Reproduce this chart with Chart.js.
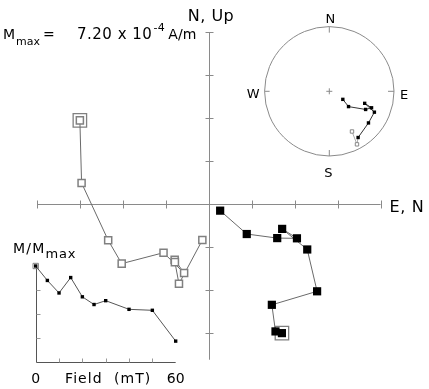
<!DOCTYPE html>
<html>
<head>
<meta charset="utf-8">
<script src="https://cdn.jsdelivr.net/npm/chart.js@4/dist/chart.umd.min.js"></script>
<style>
  html, body { margin: 0; padding: 0; background: #fff; }
  canvas { display: block; }
</style>
</head>
<body>
<canvas id="chart" width="429" height="389"></canvas>
<script>
// AF demagnetisation steps (mT) and normalised intensity
const fields = [0, 5, 10, 15, 20, 25, 30, 40, 50, 60];
const intensity = [1.0, 0.85, 0.72, 0.88, 0.68, 0.60, 0.64, 0.55, 0.54, 0.22];

// vector components per step, in Zijderveld tick units
const east = [1.70, 1.55, 1.465, 2.52, 2.29, 1.705, 2.05, 1.59, 0.88, 0.26];
const north = [-3.01, -2.97, -2.35, -2.035, -1.06, -0.58, -0.80, -0.795, -0.70, -0.155];
const up = [1.95, 0.49, -0.845, -1.39, -1.135, -1.61, -1.30, -1.355, -1.86, -0.84];

const zijHTicks = [-4, -3, -2, -1, 1, 2, 3, 4];
const zijVTicks = [4, 3, 2, 1, -1, -2, -3];
const zijVBottom = -3.63;
const demagXTicks = [10, 20, 30, 40, 50];
const demagYTicks = [0.25, 0.5, 0.75];
const mmaxText = '7.20 x 10';
const mmaxExp = '-4';

const W = 429, H = 389;

// equal-area projection of each step (inclination positive down)
const stereo = east.map((e, i) => {
    const h = Math.hypot(e, north[i]);
    const inc = Math.atan2(-up[i], h);
    const dec = Math.atan2(e, north[i]);
    const r = Math.SQRT2 * Math.sin((Math.PI / 2 - Math.abs(inc)) / 2);
    return { x: r * Math.sin(dec), y: r * Math.cos(dec), down: inc >= 0 };
});

function axisX(originPx, unitPx) {
    return { type: 'linear', axis: 'x', display: false, min: -originPx / unitPx, max: (W - originPx) / unitPx };
}
function axisY(originPx, unitPx) {
    return { type: 'linear', axis: 'y', display: false, min: -(H - originPx) / unitPx, max: originPx / unitPx };
}

function txt(ctx, str, x, y, size, align, spacing) {
    ctx.font = size + 'px "DejaVu Sans"';
    ctx.letterSpacing = (spacing || 0) + 'px';
    ctx.textAlign = align || 'left';
    ctx.textBaseline = 'alphabetic';
    ctx.fillText(str, x, y);
    return ctx.measureText(str).width;
}

function line(ctx, x1, y1, x2, y2) {
    ctx.beginPath();
    ctx.moveTo(x1, y1);
    ctx.lineTo(x2, y2);
    ctx.stroke();
}

const decor = {
    id: 'decor',
    beforeDatasetsDraw(chart) {
        const ctx = chart.ctx, s = chart.scales;
        ctx.save();
        ctx.lineWidth = 1;

        // Zijderveld cross axes
        ctx.strokeStyle = '#8a8a8a';
        const ox = Math.round(s.x.getPixelForValue(0)) + 0.5, oy = Math.round(s.y.getPixelForValue(0)) + 0.5;
        line(ctx, s.x.getPixelForValue(-4), oy, s.x.getPixelForValue(4), oy);
        line(ctx, ox, s.y.getPixelForValue(4), ox, s.y.getPixelForValue(zijVBottom));
        zijHTicks.forEach(t => {
            const px = Math.round(s.x.getPixelForValue(t)) + 0.5;
            line(ctx, px, oy - 4, px, oy + 4);
        });
        zijVTicks.forEach(t => {
            const py = Math.round(s.y.getPixelForValue(t)) + 0.5;
            line(ctx, ox - 4, py, ox + 4, py);
        });

        // demag inset axes
        ctx.strokeStyle = '#555';
        const dx0 = Math.round(s.xd.getPixelForValue(0)) + 0.5, dy0 = Math.round(s.yd.getPixelForValue(0)) + 0.5;
        line(ctx, dx0, s.yd.getPixelForValue(1), dx0, dy0);
        line(ctx, dx0, dy0, s.xd.getPixelForValue(60), dy0);
        ctx.strokeStyle = '#999';
        demagXTicks.forEach(t => {
            const px = Math.round(s.xd.getPixelForValue(t)) + 0.5;
            line(ctx, px, dy0, px, dy0 - 4);
        });
        demagYTicks.forEach(t => {
            const py = Math.round(s.yd.getPixelForValue(t)) + 0.5;
            line(ctx, dx0, py, dx0 + 4, py);
        });

        // stereonet
        const cx = s.xs.getPixelForValue(0), cy = s.ys.getPixelForValue(0);
        const R = s.xs.getPixelForValue(1) - cx;
        ctx.strokeStyle = '#8a8a8a';
        ctx.beginPath();
        ctx.arc(cx, cy, R, 0, Math.PI * 2);
        ctx.stroke();
        line(ctx, cx, cy - R, cx, cy - R + 6);
        line(ctx, cx, cy + R, cx, cy + R - 6);
        line(ctx, cx - R, cy, cx - R + 5, cy);
        line(ctx, cx + R, cy, cx + R - 6, cy);
        line(ctx, cx - 3, cy, cx + 3, cy);
        line(ctx, cx, cy - 3, cx, cy + 3);
        ctx.restore();
    },
    afterDatasetsDraw(chart) {
        const ctx = chart.ctx, s = chart.scales;
        ctx.save();
        ctx.fillStyle = '#000';
        const ox = s.x.getPixelForValue(0);

        txt(ctx, 'N, Up', ox + 2, 21, 16, 'center', 0.5);
        txt(ctx, 'E, N', s.x.getPixelForValue(4) + 9, 212, 16, 'left', 0.6);

        // Mmax line
        let x = 3;
        x += txt(ctx, 'M', x, 39, 14, 'left');
        txt(ctx, 'max', x + 1, 45, 11, 'left');
        txt(ctx, '=', 43, 39, 14, 'left');
        x = 77;
        x += txt(ctx, mmaxText, x, 39, 15, 'left', 0.5);
        x += txt(ctx, mmaxExp, x + 1, 31, 11, 'left', 0.5);
        txt(ctx, 'A/m', x + 4, 39, 14, 'left');

        // demag labels
        x = 13;
        x += txt(ctx, 'M/M', x, 253, 14, 'left', 1.2);
        txt(ctx, 'max', x, 258, 13, 'left', 0.8);
        txt(ctx, '0', s.xd.getPixelForValue(0), 383, 14, 'center');
        txt(ctx, '60', s.xd.getPixelForValue(60), 383, 14, 'center');
        txt(ctx, 'Field  (mT)', 65, 383, 14, 'left', 1.1);

        // stereonet labels
        const cx = s.xs.getPixelForValue(0), cy = s.ys.getPixelForValue(0);
        const R = s.xs.getPixelForValue(1) - cx;
        txt(ctx, 'N', cx + 1, cy - R - 4, 13, 'center');
        txt(ctx, 'S', cx - 1, cy + R + 21, 13, 'center');
        txt(ctx, 'E', cx + R + 6, cy + 8, 13, 'left');
        txt(ctx, 'W', cx - R - 5, cy + 7, 13, 'right');
        ctx.restore();
    }
};

new Chart(document.getElementById('chart'), {
    type: 'scatter',
    data: {
        datasets: [
            {
                label: 'Horizontal (E, N)',
                data: east.map((e, i) => ({ x: e, y: north[i] })),
                showLine: true, borderColor: '#6a6a6a', borderWidth: 1,
                pointStyle: 'rect', pointRadius: 5.8, pointBorderWidth: 0,
                pointBackgroundColor: '#000', pointBorderColor: '#000',
                xAxisID: 'x', yAxisID: 'y', order: 1
            },
            {
                label: 'Vertical (N, Up)',
                data: north.map((n, i) => ({ x: n, y: up[i] })),
                showLine: true, borderColor: '#6a6a6a', borderWidth: 1,
                pointStyle: 'rect', pointRadius: 5, pointBorderWidth: 1.5,
                pointBackgroundColor: '#fff', pointBorderColor: '#808080',
                xAxisID: 'x', yAxisID: 'y', order: 1
            },
            {
                label: 'NRM',
                data: [{ x: east[0], y: north[0] }, { x: north[0], y: up[0] }],
                showLine: false,
                pointStyle: 'rect', pointRadius: 9.5, pointBorderWidth: 1.3,
                pointBackgroundColor: 'rgba(0,0,0,0)', pointBorderColor: '#808080',
                xAxisID: 'x', yAxisID: 'y', order: 2
            },
            {
                label: 'M/Mmax',
                data: fields.map((f, i) => ({ x: f, y: intensity[i] })),
                showLine: true, borderColor: '#555', borderWidth: 1,
                pointStyle: 'rect', pointRadius: 2.4, pointBorderWidth: 0,
                pointBackgroundColor: '#000', pointBorderColor: '#000',
                xAxisID: 'xd', yAxisID: 'yd', order: 1
            },
            {
                label: 'M/Mmax NRM',
                data: [{ x: fields[0], y: intensity[0] }],
                showLine: false,
                pointStyle: 'rect', pointRadius: 3.8, pointBorderWidth: 1,
                pointBackgroundColor: 'rgba(0,0,0,0)', pointBorderColor: '#808080',
                xAxisID: 'xd', yAxisID: 'yd', order: 2
            },
            {
                label: 'Stereonet',
                data: stereo.map(p => ({ x: p.x, y: p.y })),
                showLine: true, borderWidth: 1,
                segment: {
                    borderColor: c => (stereo[c.p0DataIndex].down && stereo[c.p1DataIndex].down) ? '#333' : '#aaa'
                },
                pointStyle: 'rect', pointRadius: 2.4,
                pointBorderWidth: stereo.map(p => p.down ? 0 : 1),
                pointBackgroundColor: stereo.map(p => p.down ? '#000' : '#fff'),
                pointBorderColor: stereo.map(p => p.down ? '#000' : '#888'),
                xAxisID: 'xs', yAxisID: 'ys', order: 1
            }
        ]
    },
    options: {
        responsive: false, animation: false, events: [],
        layout: { padding: 0, autoPadding: false },
        plugins: { legend: { display: false }, tooltip: { enabled: false } },
        scales: {
            x: axisX(209, 42.9), y: axisY(204, 42.9),
            xd: axisX(35.7, 2.333), yd: axisY(362.3, 96.3),
            xs: axisX(329.3, 64.7), ys: axisY(91.3, 64.7)
        }
    },
    plugins: [decor]
});
</script>
</body>
</html>
